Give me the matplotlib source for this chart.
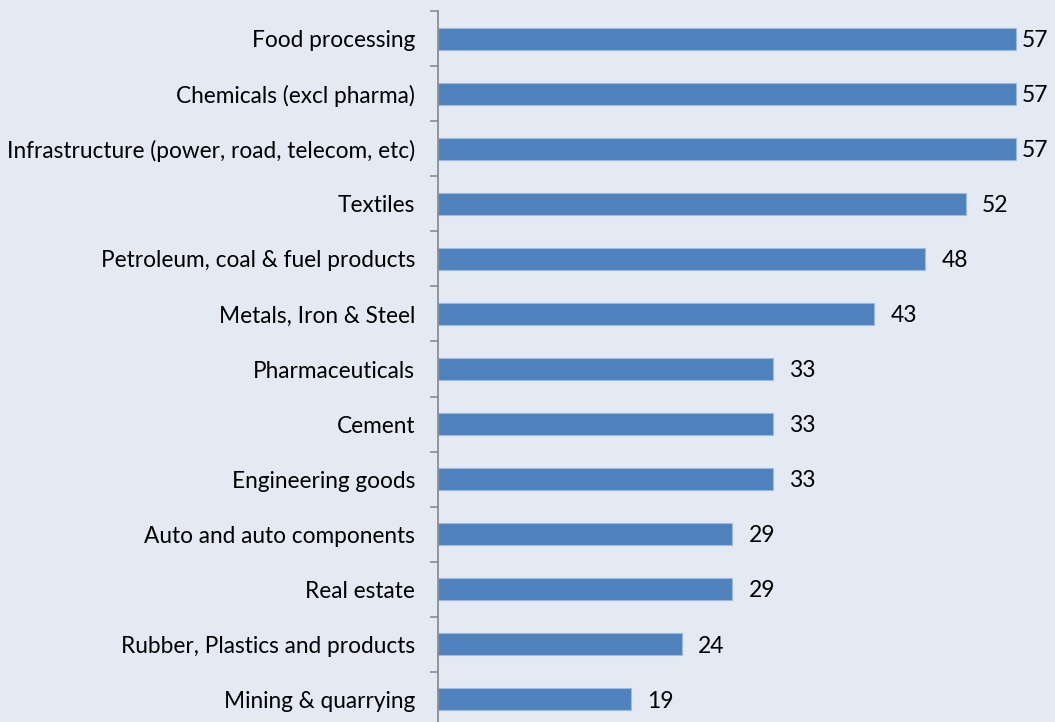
import numpy as np
import matplotlib.pyplot as plt

sectors = ['Food processing', 'Chemicals (excl pharma)',
           'Infrastructure (power, road, telecom, etc)', 'Textiles',
           'Petroleum, coal & fuel products', 'Metals, Iron & Steel',
           'Pharmaceuticals', 'Cement', 'Engineering goods',
           'Auto and auto components', 'Real estate',
           'Rubber, Plastics and products', 'Mining & quarrying']
values = [57, 57, 57, 52, 48, 43, 33, 33, 33, 29, 29, 24, 19]

bg = '#E3EAF4'
plt.rcParams['font.family'] = ['Lato', 'DejaVu Sans']

fig = plt.figure(figsize=(10.55, 7.22), dpi=100, facecolor=bg)
ax = fig.add_axes([438/1055, -5/722, 617/1055, 716/722])
ax.set_facecolor(bg)

xmax = 60.8
y = np.arange(len(sectors))
ax.barh(y, values, height=0.4, color='#4F81BD', edgecolor='#9DB9DE', linewidth=0.8)
# value labels sit a bit right of the bar, squeezed in near the right edge
for yi, v in zip(y, values):
    ax.text(min(v + 1.6, 57.55), yi + 0.03, str(v), va='center', ha='left',
            fontsize=16.5, color='#000000')

ax.set_xlim(0, xmax)
ax.set_ylim(len(sectors) - 0.5, -0.5)
ax.set_xticks([])
ax.set_yticks(y)
ax.set_yticklabels(sectors, fontsize=16.3, color='#000000')
ax.tick_params(axis='y', which='major', length=0, pad=16.5)
ax.set_yticks(np.arange(-0.5, len(sectors)), minor=True)
ax.tick_params(axis='y', which='minor', length=6, width=1.1, color='#868686')

for s in ['top', 'right', 'bottom']:
    ax.spines[s].set_visible(False)
ax.spines['left'].set_color('#868686')
ax.spines['left'].set_linewidth(1.2)

fig.savefig('out.png', dpi=100, facecolor=bg)
